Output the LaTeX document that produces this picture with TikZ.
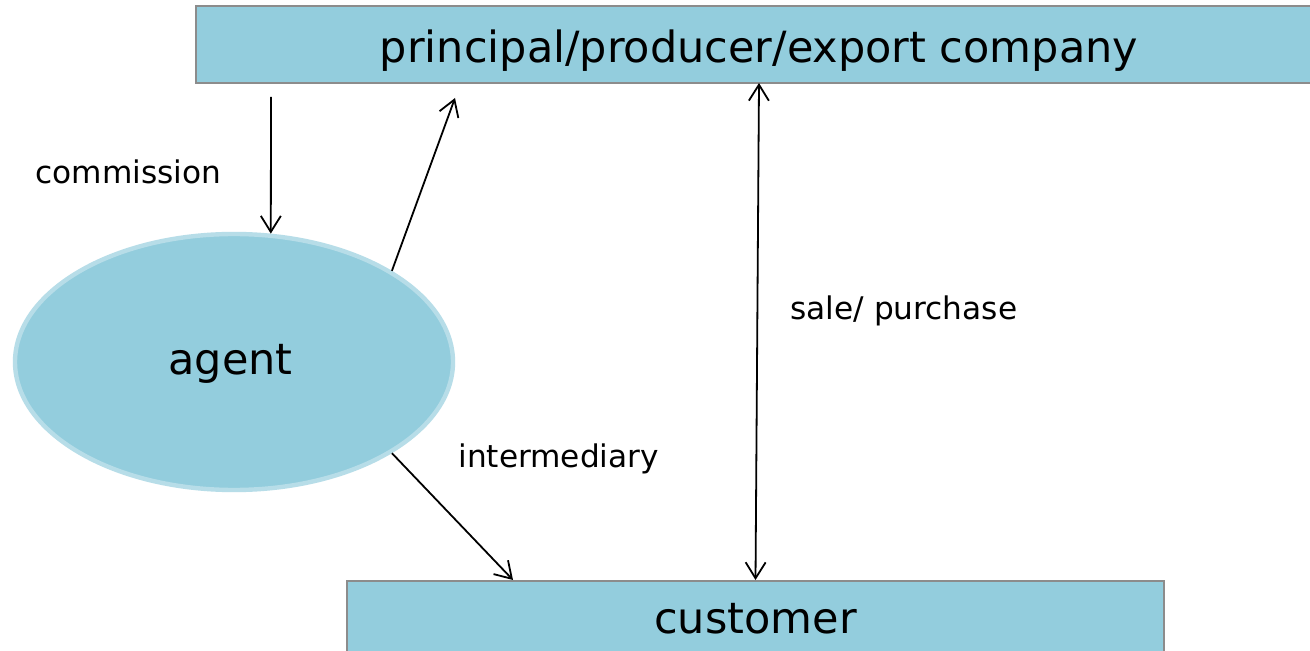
\documentclass[tikz,border=0pt]{standalone}
\usepackage{fontspec}
\setmainfont{DejaVu Sans}
\usetikzlibrary{arrows.meta,shapes.geometric}
\definecolor{boxfill}{HTML}{93CDDD}
\definecolor{boxline}{HTML}{8C8C8C}
\definecolor{ellline}{HTML}{B7DDE8}
\tikzset{
  bluebox/.style={draw=boxline, line width=1pt, fill=boxfill, inner sep=0pt,
    font=\fontsize{21.5}{25}\selectfont},
  agentshape/.style={ellipse, draw=ellline, line width=2.2pt, fill=boxfill, inner sep=0pt,
    minimum width=219pt, minimum height=128pt, font=\fontsize{21.5}{25}\selectfont,
    text height=13pt, text depth=0pt},
  lbl/.style={font=\fontsize{15.6}{19}\selectfont, inner sep=0pt, anchor=base west},
  conn/.style={line width=0.9pt, -{Straight Barb[length=8pt,width=10pt,line width=0.9pt]}},
  conn2/.style={line width=0.9pt, {Straight Barb[length=8pt,width=10pt,line width=0.9pt]}-{Straight Barb[length=8pt,width=10pt,line width=0.9pt]}}
}
\begin{document}
\begin{tikzpicture}[x=0.5pt,y=-0.5pt]
\useasboundingbox (0,0) rectangle (1310,651);
\clip (0,0) rectangle (1310,651);
\fill[white] (0,0) rectangle (1310,651);
\node[bluebox, minimum width=563pt, minimum height=38.5pt, text height=18.5pt, text depth=0pt] (top) at (759,44.5) {principal/producer/export company};
\node[bluebox, minimum width=408.5pt, minimum height=39pt, text height=13.5pt, text depth=0pt] (cust) at (755.5,620) {customer};
\node[agentshape] (agent) at (234,362) {};
\node[font=\fontsize{21.5}{25}\selectfont, inner sep=0pt, anchor=base] (agenttext) at (230.5,375) {agent};
\coordinate (cstart) at (271,97);
\coordinate (ptip) at (455,98);
\coordinate (ctip) at (513,580);
\node[lbl] (lcomm) at (35,184) {commission};
\node[lbl] (lsale) at (790,320) {sale/ purchase};
\node[lbl] (linter) at (458,467) {intermediary};
\draw[conn] (cstart) -- (agent.74);
\draw[conn] (agent.30.7) -- (ptip);
\draw[conn] (agent.-30.4) -- (ctip);
\draw[conn2] ([shift={(0,-1)}]top.south) -- (cust.north);
\end{tikzpicture}
\end{document}
